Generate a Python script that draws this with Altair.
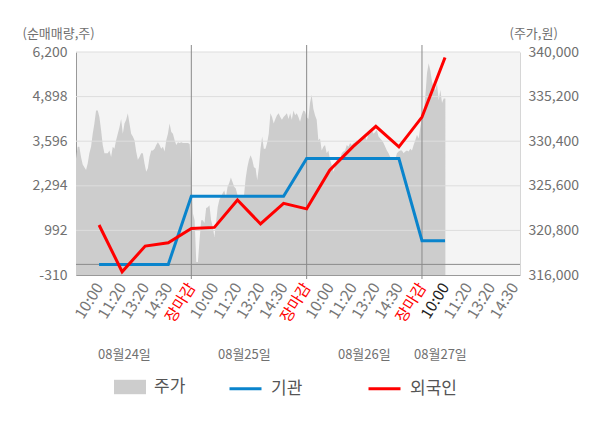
import altair as alt
import pandas as pd

# ---- data ----
# stock price (주가), per day, sampled evenly across each trading day
price_day1 = [328500, 329800, 329800, 328700, 327900, 327600, 327300, 328000, 329100, 329800,
              331200, 332300, 333700, 333700, 333000, 331600, 330000, 329100, 329100, 329100,
              329400, 328700, 329800, 329600, 330500, 331200, 331900, 332800, 331200, 332300,
              332700, 333400, 332300, 331200, 330900, 330500, 329300, 328400, 328700, 329100,
              329100, 328000, 327100, 327500, 328700, 329400, 329400, 329600, 330000, 330300,
              330000, 329600, 329800, 329300, 330500, 331200, 332300, 331400, 331200, 330500,
              330000, 330300, 330200, 330300, 330200, 330200, 330200, 330200, 330100]
price_day2 = [326800, 322600, 321900, 317400, 317400, 319800, 321900, 321900, 321600, 323200,
              323300, 323500, 321900, 321200, 320100, 321600, 323300, 324100, 324400, 324800,
              325100, 324400, 325500, 325900, 326500, 326000, 325500, 325300, 324600, 324400,
              324400, 324400, 324600, 326400, 327600, 328400, 328900, 328400, 327600, 327500,
              326200, 327600, 329600, 330900, 329600, 329600, 330200, 331200, 333400, 333000,
              332300, 332800, 333200, 333400, 333000, 332700, 333000, 333200, 333400, 332800,
              333400, 332700, 333700, 333200, 333400, 333000, 332500, 333200, 333700, 333600]
price_day3 = [333000, 332800, 334500, 335400, 333900, 333200, 332700, 330500, 330700, 329400,
              329800, 330000, 329100, 329400, 328400, 327800, 327100, 327600, 328400, 328700,
              328500, 329100, 329300, 329400, 330000, 329800, 330200, 330000, 330200, 330300,
              330500, 330300, 330700, 330500, 330700, 330900, 330500, 331200, 331400, 331600,
              331200, 331400, 331600, 330900, 330700, 330500, 330200, 329800, 329400, 329100,
              328700, 328400, 328700, 328400, 329100, 329300, 329400, 329400, 329100, 329300,
              329400, 329300, 329600, 329400, 330000, 330500, 331100, 330700, 331900]
price_day4 = [333000, 333400, 335200, 337700, 338800, 338000, 336800, 336200, 335900, 336600,
              334800, 335900, 334500, 335000, 335000]

# cumulative net buying (순매매량) at each label slot
slots = list(range(1, 17))
inst = [0, 0, 0, 0, 1990, 1990, 1990, 1990, 1990, 3090, 3090, 3090, 3090, 3090, 690, 690]
foreign = [1150, -215, 535, 630, 1050, 1080, 1880, 1180, 1780, 1620, 2750, 3430, 4030, 3430, 4300, 6040]

x_labels = ["10:00", "11:20", "13:20", "14:30", "장마감",
            "10:00", "11:20", "13:20", "14:30", "장마감",
            "10:00", "11:20", "13:20", "14:30", "장마감",
            "10:00", "11:20", "13:20", "14:30"]
day_breaks = [5, 10, 15]
dates = ["08월24일", "08월25일", "08월26일", "08월27일"]
date_pos = [2.1, 7.3, 12.5, 15.8]
left_ticks = [-310, 992, 2294, 3596, 4898, 6200]
right_ticks = [316000, 320800, 325600, 330400, 335200, 340000]
price_name = ["주가"]
price_color = ["#cdcdcd"]
line_names = ["기관", "외국인"]
line_colors = ["#0a84cc", "#ff0000"]

# ---- tables ----
rows = []
days = [price_day1, price_day2, price_day3, price_day4]
for d, vals in enumerate(days):
    n = len(vals) if d < 3 else len(price_day1)
    for i, v in enumerate(vals):
        rows.append({"x": 5 * d + i * 5.0 / n, "price": v, "series": price_name[0]})
price_df = pd.DataFrame(rows)

line_df = pd.DataFrame(
    [{"x": s, "value": v, "series": line_names[0]} for s, v in zip(slots, inst)]
    + [{"x": s, "value": v, "series": line_names[1]} for s, v in zip(slots, foreign)]
)
grid_df = pd.DataFrame({"v": left_ticks[1:]})
zero_df = pd.DataFrame({"v": [0]})
break_df = pd.DataFrame({"x": day_breaks})
date_df = pd.DataFrame({"x": date_pos, "label": dates})

W, H = 444, 223
FONT = "Noto Sans CJK KR"

xscale = alt.Scale(domain=[0, 19.25], nice=False, zero=False)
lscale = alt.Scale(domain=[-310, 6200], nice=False, zero=False)
rscale = alt.Scale(domain=[316000, 340000], nice=False, zero=False)

label_arr = "[" + ",".join("'%s'" % s for s in x_labels) + "]"

area_legend = alt.Legend(
    title=None, orient="none", legendX=38, legendY=319,
    symbolType="M-1,-0.45L1,-0.45L1,0.45L-1,0.45Z", symbolSize=1024, symbolStrokeWidth=0,
    labelFontSize=17, labelColor="#555555", labelOffset=8,
)
line_legend = alt.Legend(
    title=None, orient="none", legendX=152, legendY=319, direction="horizontal",
    symbolType="stroke", symbolSize=1024, symbolStrokeWidth=3,
    labelFontSize=17, labelColor="#555555", labelOffset=8, columnPadding=59,
)

xaxis = alt.Axis(
    values=list(range(1, 20)), labelExpr=label_arr + "[datum.value - 1]",
    labelAngle=302, labelAlign="right", labelBaseline="middle", labelPadding=9,
    labelFontSize=15.5, labelOverlap=False, labelFlush=False,
    labelColor=alt.ExprRef(
        "datum.value % 5 === 0 ? '#ff0000' : (datum.value === 16 ? '#222222' : '#777777')"),
    ticks=False, grid=False, domainColor="#999999", title=None,
)
X = alt.X("x:Q", scale=xscale, axis=xaxis)

area = alt.Chart(price_df).mark_area(opacity=1, interpolate="linear").encode(
    x=X,
    y=alt.Y("price:Q", scale=rscale, axis=alt.Axis(
        orient="right", values=right_ticks, format=",d", grid=False, ticks=False,
        domainColor="#d6d6d6", labelColor="#707070", labelFontSize=14, labelPadding=8,
        title="(주가,원)", titleAngle=0, titleX=-11, titleY=-15, titleAlign="left",
        titleBaseline="alphabetic", titleFontSize=13, titleFontWeight="normal",
        titleColor="#707070")),
    y2=alt.datum(316000),
    fill=alt.Fill("series:N", scale=alt.Scale(domain=price_name, range=price_color),
                  legend=area_legend),
)

grid = alt.Chart(grid_df).mark_rule(color="#dddddd", strokeWidth=1).encode(
    y=alt.Y("v:Q", scale=lscale, axis=None)
)
zero = alt.Chart(zero_df).mark_rule(color="#8a8a8a", strokeWidth=1).encode(
    y=alt.Y("v:Q", scale=lscale, axis=None)
)
breaks = alt.Chart(break_df).mark_rule(color="#8a8a8a", strokeWidth=1).encode(
    x=X,
    y=alt.value(-7), y2=alt.value(H + 4),
)

lines = alt.Chart(line_df).mark_line(strokeWidth=3).encode(
    x=X,
    y=alt.Y("value:Q", scale=lscale, axis=alt.Axis(
        orient="left", values=left_ticks, format=",d",
        labelExpr="replace(datum.label, '\u2212', '-')", grid=False, ticks=False,
        domainColor="#999999", labelColor="#707070", labelFontSize=14, labelPadding=9,
        title="(순매매량,주)", titleAngle=0, titleX=-54, titleY=-15, titleAlign="left",
        titleBaseline="alphabetic", titleFontSize=13, titleFontWeight="normal",
        titleColor="#707070")),
    stroke=alt.Stroke("series:N", scale=alt.Scale(domain=line_names, range=line_colors),
                      legend=line_legend),
)

date_text = alt.Chart(date_df).mark_text(fontSize=13, color="#707070", baseline="middle").encode(
    x=X,
    y=alt.value(303),
    text="label:N",
)

chart = alt.layer(area, grid, zero, breaks, lines, date_text).resolve_scale(
    y="independent"
).properties(
    width=W, height=H,
    autosize=alt.AutoSizeParams(type="none"),
    padding={"left": 68, "top": 44, "right": 72, "bottom": 140},
).configure(font=FONT).configure_view(fill="#f4f4f4", strokeWidth=0)

chart.save("out.html", embed_options={"renderer": "svg", "actions": False})
